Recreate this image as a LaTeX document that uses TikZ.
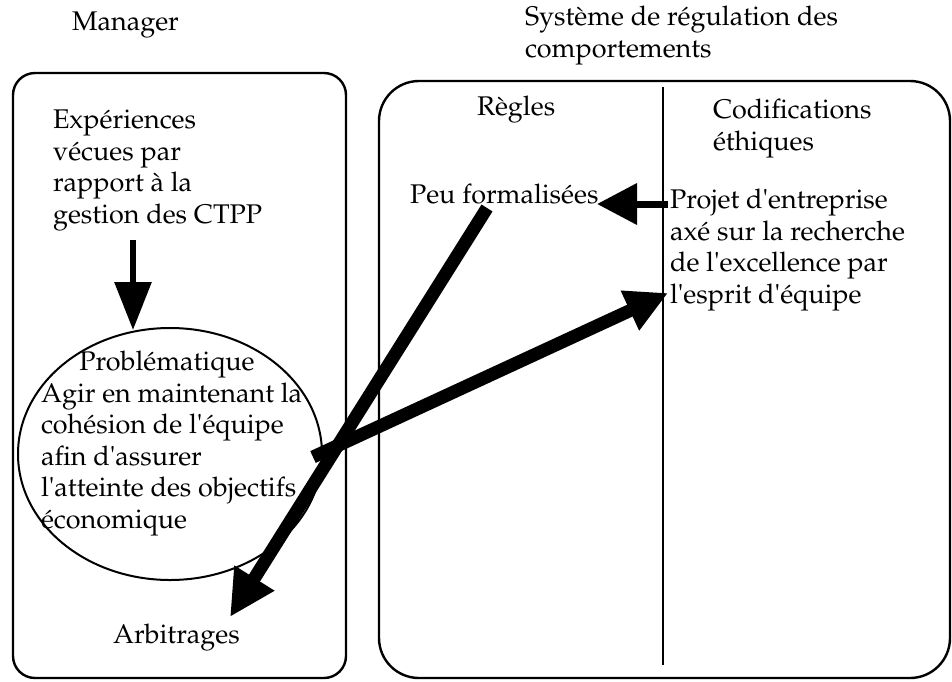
\documentclass[tikz,border=0pt]{standalone}
\usepackage[T1]{fontenc}
\usepackage{mathpazo}
\usetikzlibrary{arrows.meta,shapes.geometric}
\newcommand{\sq}{\textquotesingle}
\begin{document}
\begin{tikzpicture}[x=1pt,y=-1pt,
  txt/.style={inner sep=0pt, outer sep=0pt, anchor=base west, align=left,
    font=\fontsize{27}{31.5}\selectfont},
  panel/.style={draw, line width=2.4pt, inner sep=0pt, outer sep=0pt},
  bigarrow/.style={line width=13pt, -{Triangle[length=46pt,width=44pt]}},
  thinarrow/.style={line width=7pt, -{Triangle[length=40pt,width=40pt]}}
]
\useasboundingbox (0,0) rectangle (952,681);

% titles
\node[txt] (tmgr) at (72,30) {Manager};
\node[txt] (tsys) at (525,57) {Système de régulation des\\comportements};

% the two panels
\node[panel, rounded corners=22pt, minimum width=333pt, minimum height=605pt]
  (mgr) at (179.5,375.5) {};
\node[panel, rounded corners=40pt, minimum width=571pt, minimum height=597pt]
  (src) at (664.5,379.5) {};
\coordinate (divtop) at (663,87);
\coordinate (divbot) at (663,665);
\draw[line width=1.4pt] (divtop) -- (divbot);

% manager side
\node[txt] (exp) at (53,223) {Expériences\\vécues par\\rapport à la\\gestion des CTPP};
\node[draw, ellipse, line width=2pt, inner sep=0pt, minimum width=304pt,
  minimum height=252pt] (prob) at (170,454) {};
\node[txt, anchor=base] (ptitle) at (167,370) {Problématique};
\node[txt] (ptext) at (41,528) {Agir en maintenant la\\cohésion de l\sq équipe\\afin d\sq assurer\\l\sq atteinte des objectifs\\économique};
\node[txt] (arb) at (113,643) {Arbitrages};

% regulation side
\node[txt] (regles) at (477,115) {Règles};
\node[txt] (codif) at (713,150) {Codifications\\éthiques};
\node[txt] (peu) at (410,203) {Peu formalisées};
\node[txt] (projet) at (670,303) {Projet d\sq entreprise\\axé sur la recherche\\de l\sq excellence par\\l\sq esprit d\sq équipe};

% connector end points
\coordinate (expout) at (133,240);
\coordinate (probin) at (133,330);
\coordinate (probout) at (313,457);
\coordinate (projin) at (668,293);
\coordinate (projout) at (668,204);
\coordinate (peuin) at (597,204);
\coordinate (peuout) at (487,208);
\coordinate (arbin) at (230,617);

% connectors
\draw[line width=6pt, -{Triangle[length=48pt,width=36pt]}] (expout) -- (probin);
\draw[thinarrow] (projout) -- (peuin);
\draw[line width=13pt, -{Triangle[length=42pt,width=41pt]}] (probout) -- (projin);
\draw[bigarrow] (peuout) -- (arbin);
\end{tikzpicture}
\end{document}
